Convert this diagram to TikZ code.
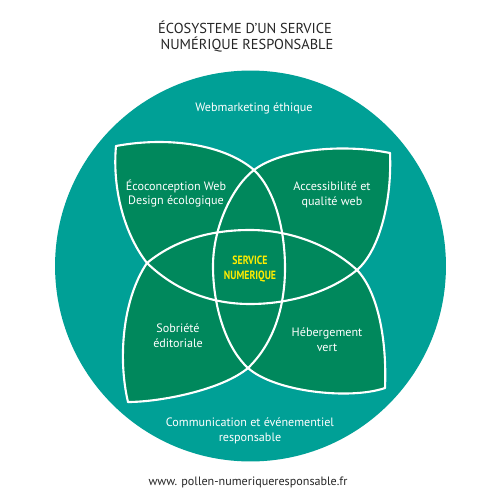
\documentclass[tikz,border=0pt]{standalone}
\usepackage{fontspec}
\usepackage{graphicx}
\setmainfont{PT Sans}
\begin{document}
\begin{tikzpicture}[x=0.02cm,y=-0.02cm,
  lbl/.style={text=white,font=\fontsize{6.9}{8.4}\selectfont,inner sep=0pt,align=center},
  ttl/.style={text=black!85,font=\fontsize{8.2}{10}\selectfont,inner sep=0pt},
  sep/.style={white,line width=1.2pt,line join=round,line cap=round}]
\definecolor{ringc}{RGB}{0,160,150}
\definecolor{leafc}{RGB}{0,136,92}
\definecolor{yelc}{RGB}{255,236,0}
\useasboundingbox (0,0) rectangle (500,500);
\fill[white] (0,0) rectangle (500,500);
\fill[ringc] (250.5,266) circle[radius=3.91cm];
% the four bounding curves
\def\cA{(390,153) .. controls (340,143) and (280,150) .. (254,170)
  .. controls (234,185) and (213,225) .. (213,266)
  .. controls (213,310) and (228,350) .. (248,368)
  .. controls (275,392) and (350,400) .. (385,388)}
\def\cB{(116,146) .. controls (170,136) and (225,145) .. (254,170)
  .. controls (275,190) and (285,230) .. (285,268)
  .. controls (285,310) and (272,345) .. (248,368)
  .. controls (222,390) and (160,402) .. (128,402)}
\def\cC{(116,146) .. controls (112,190) and (125,235) .. (147,263)
  .. controls (175,290) and (210,304) .. (250,304)
  .. controls (290,304) and (330,292) .. (357,270)
  .. controls (380,250) and (392,200) .. (390,153)}
\def\cD{(128,402) .. controls (118,360) and (122,300) .. (147,263)
  .. controls (175,240) and (210,230) .. (250,230)
  .. controls (290,230) and (330,245) .. (357,270)
  .. controls (378,292) and (387,340) .. (385,388)}
\def\rA{\cA -- (480,388) -- (480,153) -- cycle}
\def\rB{\cB -- (20,402) -- (20,146) -- cycle}
\def\rC{\cC -- (390,100) -- (116,100) -- cycle}
\def\rD{\cD -- (385,450) -- (128,450) -- cycle}
\begin{scope}\clip \rA; \fill[leafc] \rC; \end{scope}
\begin{scope}\clip \rA; \fill[leafc] \rD; \end{scope}
\begin{scope}\clip \rB; \fill[leafc] \rC; \end{scope}
\begin{scope}\clip \rB; \fill[leafc] \rD; \end{scope}
\draw[sep] \cA;
\draw[sep] \cB;
\draw[sep] \cC;
\draw[sep] \cD;
% titles
\node[ttl] (t1) at (245,27) {ÉCOSYSTEME D’UN SERVICE};
\node[ttl] (t2) at (247,45) {NUMÉRIQUE RESPONSABLE};
% labels
\node[lbl] (web) at (254,108) {Webmarketing éthique};
\node[lbl] (eco) at (176,193.5) {Écoconception Web\\Design écologique};
\node[lbl] (acc) at (332,195) {Accessibilité et\\qualité web};
\node[lbl] (sob) at (178,335.5) {Sobriété\\éditoriale};
\node[lbl] (heb) at (327,340) {Hébergement\\vert};
\node[lbl] (com) at (250,430.5) {Communication et événementiel\\responsable};
\node[inner sep=0pt,text=yelc,font=\fontsize{6.8}{9}\bfseries\selectfont,align=center] (srv) at (250,269) {\scalebox{0.82}[1]{SERVICE}\\\scalebox{0.82}[1]{NUMERIQUE}};
\node[ttl,font=\fontsize{6.9}{8}\selectfont] (url) at (248,482) {www. pollen-numeriqueresponsable.fr};
\end{tikzpicture}
\end{document}
